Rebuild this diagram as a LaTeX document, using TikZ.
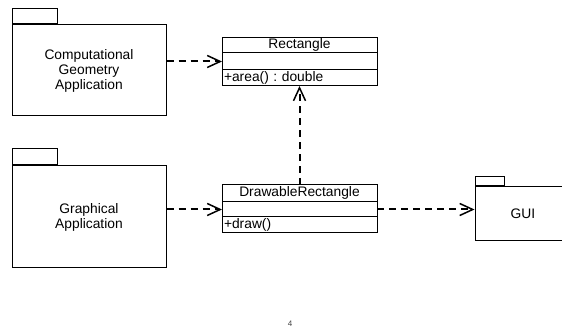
\documentclass[tikz,border=0pt]{standalone}
\usepackage{fontspec}
\setmainfont{Liberation Sans}
\usepackage{tikz}
\usetikzlibrary{positioning,arrows.meta}
\frenchspacing

\begin{document}
\begin{tikzpicture}[
        x=1pt, y=-1pt,
        txt/.style={font=\fontsize{13.8}{15}\selectfont},
        pkg/.style={txt, draw, line width=1pt, align=center, inner sep=0pt},
        tabbox/.style={draw, line width=1pt, inner sep=0pt, anchor=south west},
        part/.style={txt, draw, line width=1pt, minimum width=155pt, inner sep=0pt, outer sep=0pt,
                     text height=10pt, text depth=3pt},
        oper/.style={part, text width=151pt, align=left},
        dep/.style={line width=2pt, dash pattern=on 7pt off 5pt,
                    -{Straight Barb[length=13pt,width=12pt,line width=1.5pt]}}
    ]

        \clip (0,0) rectangle (562,328);

        % packages
        \node[pkg, minimum width=154pt, minimum height=91pt] (compGeo) at (89,70.5) {Computational\\Geometry\\Application};
        \node[tabbox, minimum width=45pt, minimum height=15pt] (compGeoTab) at (compGeo.north west) {};

        \node[pkg, minimum width=154pt, minimum height=102pt] (graphApp) at (89,217) {Graphical\\Application};
        \node[tabbox, minimum width=45pt, minimum height=16pt] (graphAppTab) at (graphApp.north west) {};

        \node[pkg, minimum width=96pt, minimum height=54pt] (gui) at (523,214) {GUI};
        \node[tabbox, minimum width=29pt, minimum height=9pt] (guiTab) at (gui.north west) {};

        % classes
        \node[part, minimum height=15pt] (rectName) at (299.5,45.5) {Rectangle};
        \node[part, minimum height=17pt, below=0pt of rectName] (rectAttr) {};
        \node[oper, minimum height=16pt, below=0pt of rectAttr] (rectOps) {+area() : double};

        \node[part, minimum height=17pt] (drawName) at (299.5,193.5) {DrawableRectangle};
        \node[part, minimum height=15pt, below=0pt of drawName] (drawAttr) {};
        \node[oper, minimum height=16pt, below=0pt of drawAttr] (drawOps) {+draw()};

        % dependencies
        \draw[dep] (compGeo.east |- rectAttr) -- (rectAttr.west);
        \draw[dep] (graphApp.east |- drawAttr) -- (drawAttr.west);
        \draw[dep] (drawName.north) -- (rectOps.south);
        \draw[dep] (drawAttr.east) -- (gui.west |- drawAttr);

        \node[font=\fontsize{8}{9}\selectfont, text=black!75] (pageNo) at (290,323.5) {4};

    \end{tikzpicture}
\end{document}
